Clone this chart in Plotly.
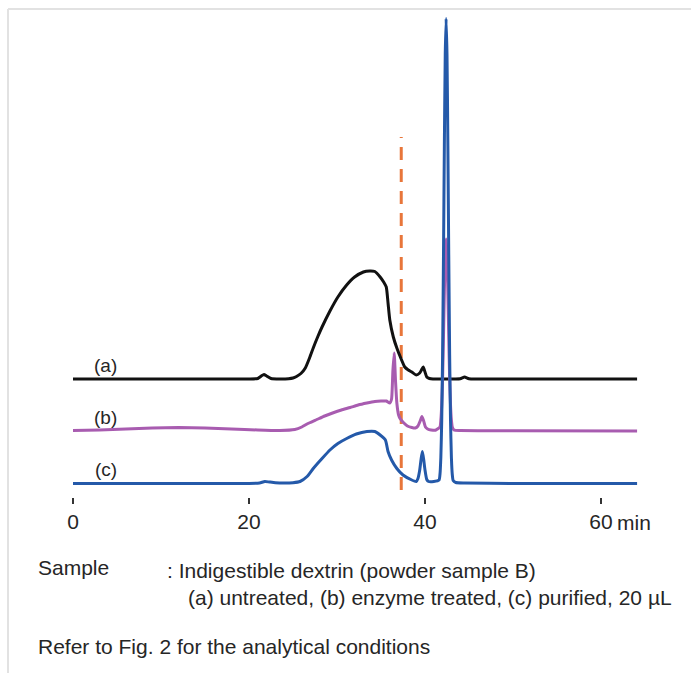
import plotly.graph_objects as go

# ---------------- data (retention time in min, detector response in arbitrary units) ----------------
time_a = [0, 10, 20, 21.0, 21.4, 21.7, 22.0, 22.5, 23.5, 24.5, 25.0, 25.4, 25.9, 26.4, 26.9, 27.3, 27.8,
          28.3, 29.2, 30.1, 31.1, 32.0, 33.0, 33.7, 34.3, 34.9, 35.3, 35.6, 35.8, 36.0, 36.4, 36.8, 37.2,
          37.7, 38.1, 38.5, 39.0, 39.4, 39.6, 39.8, 40.0, 40.2, 40.5, 40.9, 42, 44.0, 44.5, 45.0, 50, 55,
          60, 64.1]
resp_a = [0, 0, 0, 0.5, 3, 4.5, 3, 0.5, 0, 0.3, 1, 2.5, 5.5, 11, 21.5, 31, 42,
          52, 68, 82, 94, 102, 107, 108, 107.5, 102, 97, 92, 76, 59, 42, 31, 22,
          12, 9, 7, 4, 6, 9, 12, 7, 2, 0.5, 0, 0, 0.3, 2, 0.3, 0, 0,
          0, 0]

time_b = [0, 3, 6, 9, 12, 15, 18, 21, 23.5, 25.2, 26.0, 26.7, 27.6, 28.6, 29.5, 30.5, 31.5, 32.4, 33.4,
          34.3, 35.0, 35.6, 36.0, 36.2, 36.35, 36.5, 36.65, 36.8, 37.0, 37.2, 37.6, 38.0, 38.5, 38.9,
          39.2, 39.45, 39.65, 39.85, 40.05, 40.3, 40.7, 41.2, 41.7, 41.8, 41.9, 42.0, 42.1, 42.2, 42.3,
          42.4, 42.5, 42.6, 42.7, 42.8, 42.9, 43.0, 43.1, 43.3, 44, 50, 64.1]
resp_b = [0.5, 1, 2, 3, 3.5, 3, 2, 1, 0.5, 1.5, 4, 7.5, 11, 15, 18, 21, 23.5, 26, 28,
          29.5, 30, 30, 28, 32, 60, 78, 50, 28, 16, 12, 8, 5, 3.5, 3,
          5, 10, 14.5, 10, 4, 2, 1, 0.8, 4, 11, 26, 53, 94, 139, 177,
          192, 177, 139, 94, 53, 26, 11, 4, 1, 0.5, 0.3, 0]

time_c = [0, 10, 20, 21.2, 21.8, 22.3, 23.0, 24.0, 25.0, 25.8, 26.6, 27.3, 28.3, 29.2, 30.1, 31.1, 32.2,
          33.4, 34.3, 34.9, 35.5, 35.8, 36.2, 36.8, 37.5, 38.5, 39.0, 39.2, 39.4, 39.55, 39.7, 39.85,
          40.0, 40.2, 40.4, 41.0, 41.6, 41.7, 41.8, 41.9, 42.0, 42.1, 42.2, 42.3, 42.4, 42.5, 42.6, 42.7,
          42.8, 42.9, 43.0, 43.1, 43.2, 43.5, 44.5, 50, 55, 60, 64.1]
resp_c = [0, 0, 0, 0.5, 2, 1.5, 0.8, 0.5, 0.8, 2, 7, 15, 25, 33.5, 40, 45, 49.5,
          52, 52, 48.5, 43.5, 32, 23.5, 15, 8.5, 3.5, 2, 5, 13.5, 24, 32, 24,
          13.5, 4, 2, 2, 3.5, 9, 26, 63, 129, 227, 338, 429, 465, 429, 338, 227,
          129, 63, 26, 9, 3, 1, 0.5, 0, 0, 0, 0]

series_names = ["(a)", "(b)", "(c)"]
series_offsets = [104.5, 52.5, 0]          # vertical stacking of the chromatograms
tick_vals = [0, 20, 40, 60]
tick_text = ["0", "20", "40", "60"]
cutoff_min = 37.3
cutoff_top = 346.5

colors = ["#111111", "#A85CB0", "#2459A9"]
FONT = "Liberation Sans, Arial, sans-serif"
TXT = "#262626"

fig = go.Figure()
for t, r, off, col, nm in zip([time_a, time_b, time_c], [resp_a, resp_b, resp_c],
                              series_offsets, colors, series_names):
    fig.add_trace(go.Scatter(x=t, y=[v + off for v in r], mode="lines", name=nm,
                             line=dict(color=col, width=3, shape="spline", smoothing=0.5),
                             showlegend=False, hoverinfo="skip"))

W, H = 691, 673
L, R, T, B = 30, 30, 10, 176
pw, ph = W - L - R, H - T - B
x0 = (L - 73) / 8.8
x1 = (W - R - 73) / 8.8

def px(xp):
    return (xp - L) / pw

def py(yp):
    return (H - B - yp) / ph

fig.add_shape(type="line", xref="x", yref="y", x0=cutoff_min, x1=cutoff_min, y0=-6.5, y1=cutoff_top,
              line=dict(color="#E8763A", width=3, dash="13px,9px"), layer="below")

# frame (light grey left and top border)
fig.add_shape(type="line", xref="paper", yref="paper", x0=px(8), x1=px(W + 5), y0=py(9), y1=py(9),
              line=dict(color="#E2E2E2", width=2))
fig.add_shape(type="line", xref="paper", yref="paper", x0=px(8), x1=px(8), y0=py(9), y1=py(H + 5),
              line=dict(color="#E2E2E2", width=2))

# series labels
for nm, off in zip(series_names, series_offsets):
    fig.add_annotation(x=3.7, y=off + 14, xref="x", yref="y", text=nm, showarrow=False,
                       font=dict(family=FONT, size=19, color=TXT), xanchor="center", yanchor="middle")

fig.add_annotation(x=61.6, y=py(522), xref="x", yref="paper", text="min", showarrow=False,
                   font=dict(family=FONT, size=21, color=TXT), xanchor="left", yanchor="middle")

notes = [
    ("Sample", 36, 567),
    (": Indigestible dextrin (powder sample B)", 165, 570),
    ("(a) untreated, (b) enzyme treated, (c) purified, 20 \u00b5L", 186, 597),
    ("Refer to Fig. 2 for the analytical conditions", 36, 646),
]
for txt, xx, yy in notes:
    fig.add_annotation(x=px(xx), y=py(yy), xref="paper", yref="paper", text=txt, showarrow=False,
                       font=dict(family=FONT, size=21, color=TXT), xanchor="left", yanchor="middle")

fig.update_layout(
    width=W, height=H, margin=dict(l=L, r=R, t=T, b=B, autoexpand=False),
    paper_bgcolor="white", plot_bgcolor="white",
    xaxis=dict(range=[x0, x1], showgrid=False, zeroline=False, showline=False,
               ticks="outside", ticklen=6, tickwidth=2, tickcolor="#333333",
               tickvals=tick_vals, ticktext=tick_text,
               tickfont=dict(family=FONT, size=21, color=TXT), fixedrange=True),
    yaxis=dict(range=[-13.5, 473.5], visible=False, fixedrange=True),
)

fig.write_html("out.html", config={"displayModeBar": False})
